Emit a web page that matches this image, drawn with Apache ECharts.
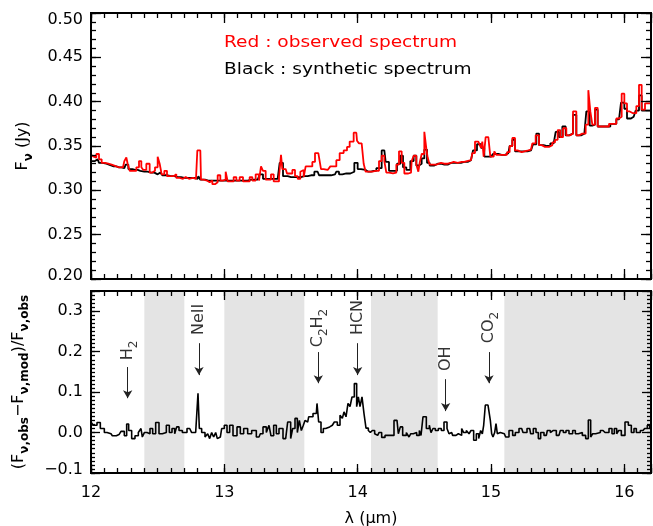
<!DOCTYPE html>
<html><head><meta charset="utf-8">
<script src="https://cdn.jsdelivr.net/npm/echarts@6/dist/echarts.min.js"></script>
<style>html,body{margin:0;padding:0;background:#fff}#c{width:653px;height:526px}</style>
</head><body><div id="c"></div>
<script>
// ---------- data ----------
const obsWave = [12.00,12.02,12.03,12.05,12.07,12.09,12.12,12.14,12.17,12.21,12.24,12.26,12.27,12.28,12.30,12.33,12.35,12.37,12.385,12.40,12.43,12.45,12.47,12.49,12.51,12.52,12.54,12.56,12.58,12.61,12.63,12.65,12.68,12.70,12.72,12.75,12.78,12.795,12.80,12.82,12.83,12.86,12.88,12.90,12.92,12.94,12.96,12.98,13.00,13.02,13.03,13.06,13.08,13.10,13.13,13.15,13.18,13.20,13.22,13.25,13.27,13.28,13.30,13.32,13.34,13.36,13.38,13.40,13.42,13.43,13.44,13.46,13.48,13.50,13.52,13.54,13.56,13.58,13.59,13.60,13.62,13.65,13.67,13.69,13.72,13.73,13.76,13.79,13.80,13.83,13.85,13.88,13.91,13.93,13.95,13.99,14.00,14.02,14.04,14.05,14.07,14.10,14.12,14.15,14.17,14.19,14.21,14.22,14.25,14.28,14.30,14.32,14.34,14.36,14.40,14.41,14.43,14.45,14.46,14.47,14.49,14.51,14.52,14.53,14.55,14.58,14.60,14.65,14.70,14.72,14.75,14.78,14.82,14.85,14.87,14.89,14.92,14.93,14.94,14.95,14.97,14.99,15.00,15.02,15.03,15.05,15.08,15.11,15.13,15.15,15.17,15.19,15.21,15.25,15.28,15.30,15.32,15.35,15.37,15.39,15.42,15.45,15.47,15.49,15.51,15.53,15.55,15.58,15.60,15.63,15.65,15.67,15.70,15.72,15.74,15.75,15.77,15.79,15.81,15.84,15.87,15.90,15.93,15.95,15.97,15.99,16.01,16.03,16.05,16.08,16.10,16.12,16.14,16.17,16.20];
const obsFlux = [0.340,0.338,0.337,0.341,0.335,0.331,0.330,0.329,0.327,0.326,0.326,0.333,0.337,0.330,0.322,0.322,0.326,0.333,0.326,0.323,0.330,0.320,0.322,0.326,0.338,0.330,0.318,0.322,0.316,0.316,0.318,0.314,0.313,0.315,0.313,0.314,0.313,0.314,0.345,0.345,0.312,0.311,0.309,0.311,0.307,0.309,0.317,0.311,0.312,0.321,0.310,0.310,0.315,0.311,0.315,0.310,0.310,0.315,0.311,0.318,0.311,0.327,0.322,0.312,0.312,0.318,0.310,0.310,0.315,0.340,0.324,0.324,0.319,0.319,0.323,0.316,0.313,0.321,0.323,0.315,0.327,0.327,0.332,0.342,0.342,0.324,0.323,0.322,0.327,0.327,0.334,0.342,0.345,0.349,0.355,0.365,0.356,0.353,0.353,0.330,0.321,0.321,0.322,0.322,0.333,0.339,0.333,0.320,0.319,0.320,0.329,0.344,0.331,0.319,0.320,0.333,0.339,0.329,0.321,0.331,0.341,0.366,0.347,0.337,0.329,0.329,0.331,0.330,0.331,0.332,0.331,0.332,0.333,0.334,0.342,0.355,0.355,0.348,0.355,0.338,0.360,0.358,0.338,0.338,0.344,0.340,0.340,0.340,0.343,0.350,0.359,0.345,0.343,0.344,0.345,0.346,0.353,0.362,0.351,0.349,0.349,0.351,0.354,0.357,0.368,0.360,0.370,0.362,0.364,0.389,0.362,0.364,0.364,0.374,0.413,0.389,0.374,0.393,0.372,0.372,0.372,0.375,0.375,0.381,0.383,0.409,0.398,0.389,0.387,0.387,0.395,0.419,0.391,0.398,0.398];

const modelWave = [12.00,12.03,12.05,12.07,12.10,12.13,12.17,12.21,12.25,12.27,12.29,12.33,12.37,12.40,12.45,12.50,12.52,12.55,12.60,12.65,12.70,12.75,12.80,12.81,12.83,12.88,12.93,12.98,13.02,13.06,13.10,13.15,13.20,13.25,13.28,13.30,13.35,13.40,13.43,13.45,13.50,13.55,13.60,13.65,13.70,13.72,13.76,13.80,13.83,13.85,13.87,13.90,13.93,13.96,13.99,14.01,14.04,14.08,14.12,14.16,14.20,14.22,14.25,14.28,14.31,14.33,14.35,14.38,14.41,14.43,14.45,14.47,14.49,14.51,14.53,14.55,14.60,14.65,14.70,14.75,14.80,14.85,14.88,14.91,14.94,14.96,15.00,15.03,15.08,15.13,15.15,15.17,15.19,15.25,15.30,15.33,15.35,15.37,15.42,15.47,15.50,15.52,15.55,15.57,15.60,15.63,15.65,15.70,15.73,15.75,15.77,15.79,15.81,15.87,15.92,15.96,15.99,16.01,16.03,16.07,16.10,16.12,16.14,16.20];
const modelFlux = [0.333,0.333,0.335,0.331,0.330,0.328,0.327,0.326,0.325,0.329,0.324,0.323,0.322,0.321,0.320,0.318,0.320,0.317,0.316,0.315,0.314,0.314,0.313,0.316,0.312,0.311,0.311,0.311,0.311,0.311,0.311,0.311,0.312,0.312,0.318,0.313,0.313,0.313,0.331,0.316,0.315,0.315,0.316,0.317,0.321,0.317,0.317,0.317,0.318,0.321,0.318,0.319,0.319,0.321,0.331,0.324,0.323,0.321,0.322,0.325,0.345,0.332,0.322,0.322,0.330,0.339,0.326,0.323,0.333,0.339,0.328,0.330,0.336,0.346,0.331,0.328,0.330,0.329,0.331,0.331,0.332,0.334,0.345,0.352,0.348,0.338,0.338,0.341,0.340,0.342,0.350,0.357,0.344,0.344,0.345,0.352,0.364,0.351,0.350,0.353,0.366,0.360,0.372,0.362,0.364,0.385,0.362,0.364,0.389,0.373,0.374,0.391,0.372,0.372,0.375,0.380,0.399,0.392,0.381,0.383,0.390,0.407,0.390,0.390];

const residWave = [12.00,12.03,12.06,12.08,12.12,12.15,12.17,12.21,12.24,12.26,12.275,12.29,12.32,12.34,12.37,12.38,12.39,12.41,12.43,12.455,12.47,12.50,12.52,12.55,12.58,12.595,12.62,12.635,12.65,12.67,12.70,12.74,12.77,12.80,12.805,12.82,12.84,12.87,12.88,12.90,12.91,12.93,12.94,12.955,12.97,12.99,13.01,13.03,13.05,13.08,13.11,13.13,13.16,13.19,13.22,13.26,13.28,13.30,13.33,13.34,13.36,13.38,13.40,13.42,13.46,13.49,13.505,13.52,13.54,13.555,13.57,13.585,13.60,13.61,13.625,13.64,13.69,13.70,13.715,13.735,13.75,13.77,13.81,13.84,13.855,13.88,13.89,13.905,13.92,13.935,13.95,13.965,13.985,14.00,14.01,14.025,14.04,14.055,14.07,14.09,14.10,14.12,14.135,14.15,14.17,14.19,14.22,14.25,14.295,14.315,14.325,14.35,14.38,14.39,14.405,14.43,14.455,14.47,14.48,14.50,14.53,14.545,14.555,14.575,14.59,14.62,14.635,14.66,14.68,14.69,14.705,14.72,14.755,14.77,14.79,14.80,14.83,14.84,14.86,14.88,14.90,14.915,14.93,14.94,14.95,14.965,14.99,15.00,15.01,15.02,15.035,15.04,15.055,15.07,15.10,15.12,15.15,15.175,15.19,15.23,15.25,15.29,15.305,15.33,15.345,15.365,15.38,15.415,15.43,15.46,15.47,15.51,15.53,15.555,15.57,15.60,15.625,15.64,15.67,15.70,15.72,15.74,15.755,15.77,15.80,15.84,15.87,15.90,15.915,15.935,15.95,15.965,15.99,16.02,16.04,16.065,16.08,16.10,16.14,16.165,16.18,16.20];
const residValue = [0.026,0.018,0.025,0.010,0.000,-0.003,-0.008,-0.005,0.003,-0.008,0.021,0.005,-0.015,-0.008,0.000,0.010,-0.011,0.000,-0.003,0.010,-0.003,0.025,-0.003,0.000,0.018,0.000,0.010,-0.003,0.014,0.005,0.000,0.010,0.000,0.000,0.097,0.010,0.000,-0.011,-0.003,-0.015,0.000,-0.011,0.000,-0.015,-0.011,0.010,0.018,0.000,0.018,-0.008,0.014,-0.003,0.010,-0.003,0.005,-0.011,-0.003,0.014,0.000,0.018,-0.008,0.018,-0.003,0.010,-0.015,0.026,-0.015,0.010,0.035,0.000,0.030,0.005,0.018,0.030,0.026,0.039,0.047,0.072,0.026,0.000,0.010,0.014,0.018,0.026,0.018,0.043,0.035,0.051,0.039,0.072,0.064,0.088,0.121,0.064,0.088,0.064,0.088,0.047,0.011,0.005,0.000,0.005,-0.003,-0.007,0.000,-0.012,-0.007,-0.007,0.030,-0.003,0.014,-0.007,0.000,-0.011,-0.003,0.000,-0.007,0.005,-0.007,0.039,0.010,0.018,0.000,0.010,0.005,0.010,0.005,0.026,0.010,-0.003,0.000,-0.007,-0.003,-0.007,0.010,0.000,0.005,-0.003,0.005,-0.019,-0.003,-0.015,0.005,-0.003,0.018,0.068,0.068,0.030,-0.003,-0.011,0.000,0.022,-0.003,0.000,-0.003,-0.011,0.005,-0.007,0.000,0.010,0.000,0.010,-0.003,0.010,0.000,-0.015,0.000,-0.007,0.005,0.000,0.005,-0.007,0.005,0.000,0.005,-0.003,0.005,-0.003,0.000,-0.007,-0.015,0.031,-0.011,-0.003,0.000,0.005,0.000,0.010,-0.003,0.010,-0.003,0.005,-0.007,0.026,0.018,0.000,0.010,0.000,0.005,0.010,0.018,0.010];

const grayBands = [[12.4, 12.7], [13.0, 13.6], [14.1, 14.6], [15.1, 16.2]];

const lineLabels = ['H{s|2}', 'NeII', 'C{s|2}H{s|2}', 'HCN', 'OH', 'CO{s|2}'];
const lineWave   = [12.275, 12.81, 13.705, 14.0, 14.66, 14.985];
const arrowTop   = [0.162, 0.221, 0.199, 0.221, 0.132, 0.199];
const arrowTip   = [0.085, 0.142, 0.122, 0.142, 0.053, 0.122];
const labelBase  = [0.179, 0.241, 0.211, 0.241, 0.152, 0.221];

const xRange = [12, 16.2];
const topYRange = [0.20, 0.50];
const botYRange = [-0.1, 0.35];
const legendTexts = ['Red : observed spectrum', 'Black : synthetic spectrum'];

// ---------- chart ----------
const FONT = 'DejaVu Sans';
const zip = (a, b) => a.map((v, i) => [v, b[i]]);
const subRich = {
  m: { fontSize: 16, fontFamily: FONT, color: '#000', lineHeight: 20 },
  s: { fontSize: 12, fontFamily: FONT, fontWeight: 'bold', color: '#000', lineHeight: 14, padding: [12, 0, 0, 0] }
};
const labelRich = {
  m: { fontSize: 16, fontFamily: FONT, color: '#000', lineHeight: 20 },
  s: { fontSize: 12, fontFamily: FONT, color: '#000', lineHeight: 14, padding: [12, 0, 0, 0] }
};

function xAx(grid, pos, interval, tickLen, showLabel, extra) {
  return Object.assign({
    type: 'value', gridIndex: grid, position: pos, min: xRange[0], max: xRange[1], interval: interval,
    z: 10,
    axisLine: { show: true, onZero: false, lineStyle: { color: '#000', width: 2 } },
    axisTick: { show: true, inside: true, length: tickLen, lineStyle: { color: '#000', width: 1.3 } },
    axisLabel: { show: showLabel, color: '#000', fontSize: 16, fontFamily: FONT, margin: 12,
      formatter: v => (Math.abs(v - Math.round(v)) < 1e-6 ? String(Math.round(v)) : '') },
    splitLine: { show: false }, minorTick: { show: false }, axisPointer: { show: false }
  }, extra || {});
}
function yAx(grid, pos, range, interval, tickLen, label, extra) {
  return Object.assign({
    type: 'value', gridIndex: grid, position: pos, min: range[0], max: range[1], interval: interval,
    z: 10,
    axisLine: { show: true, onZero: false, lineStyle: { color: '#000', width: 2 } },
    axisTick: { show: true, inside: true, length: tickLen, lineStyle: { color: '#000', width: 1.3 } },
    axisLabel: label ? Object.assign({ show: true, color: '#000', fontSize: 16, fontFamily: FONT, margin: 8 }, label) : { show: false },
    splitLine: { show: false }, minorTick: { show: false }, axisPointer: { show: false }
  }, extra || {});
}

const topLabelFmt = v => {
  const s = v.toFixed(2);
  if (Math.abs(v - 0.5) < 1e-6) return '{t|' + s + '}';
  if (Math.abs(v - 0.2) < 1e-6) return '{b|' + s + '}';
  return s;
};
const botLabelFmt = v => {
  if (v > 0.32) return '';
  if (v < -0.05) return '{b|−0.1}';
  return Math.abs(v).toFixed(1);
};
const tickRich = {
  t: { fontSize: 16, fontFamily: FONT, color: '#000', padding: [14, 0, 0, 0] },
  b: { fontSize: 16, fontFamily: FONT, color: '#000', padding: [0, 0, 7, 0] }
};

const chart = echarts.init(document.getElementById('c'), null, { renderer: 'canvas' });
chart.setOption({
  animation: false,
  backgroundColor: '#fff',
  grid: [
    { left: 91, right: 2, top: 13, height: 266, containLabel: false, outerBoundsMode: 'none' },
    { left: 91, right: 2, top: 291, height: 182, containLabel: false, outerBoundsMode: 'none' }
  ],
  xAxis: [
    xAx(0, 'bottom', 1, 10, false),
    xAx(0, 'bottom', 0.1, 5, false),
    xAx(0, 'top', 1, 10, false),
    xAx(0, 'top', 0.1, 5, false),
    xAx(1, 'bottom', 1, 9, true, { name: 'λ (μm)', nameLocation: 'middle', nameGap: 38, nameMoveOverlap: false,
      nameTextStyle: { color: '#000', fontSize: 16, fontFamily: FONT } }),
    xAx(1, 'bottom', 0.1, 5, false),
    xAx(1, 'top', 1, 9, false),
    xAx(1, 'top', 0.1, 5, false)
  ],
  yAxis: [
    yAx(0, 'left', topYRange, 0.05, 10, { formatter: topLabelFmt, rich: tickRich },
      { name: '{m|F}{s|ν}{m| (Jy)}', nameLocation: 'middle', nameGap: 58, nameMoveOverlap: false,
        nameTextStyle: { rich: subRich } }),
    yAx(0, 'left', topYRange, 0.01, 5, null),
    yAx(0, 'right', topYRange, 0.05, 10, null),
    yAx(0, 'right', topYRange, 0.01, 5, null),
    yAx(1, 'left', botYRange, 0.1, 9, { formatter: botLabelFmt, rich: tickRich },
      { name: '{m|(F}{s|ν,obs}{m|−F}{s|ν,mod}{m|)/F}{s|ν,obs}', nameLocation: 'middle', nameGap: 62, nameMoveOverlap: false,
        nameTextStyle: { rich: subRich } }),
    yAx(1, 'left', botYRange, 0.01, 4, null),
    yAx(1, 'right', botYRange, 0.1, 9, null),
    yAx(1, 'right', botYRange, 0.01, 4, null)
  ],
  graphic: [
    { type: 'text', x: 224, y: 43, scaleX: 1.16, silent: true,
      style: { text: legendTexts[0], fill: '#ff0000', font: '16px "DejaVu Sans"', verticalAlign: 'middle', align: 'left' } },
    { type: 'text', x: 224, y: 70, scaleX: 1.16, silent: true,
      style: { text: legendTexts[1], fill: '#000000', font: '16px "DejaVu Sans"', verticalAlign: 'middle', align: 'left' } }
  ],
  series: [
    { name: 'synthetic', type: 'line', xAxisIndex: 0, yAxisIndex: 0, data: zip(modelWave, modelFlux),
      step: 'middle', showSymbol: false, symbol: 'none', silent: true, z: 2,
      lineStyle: { color: '#000', width: 1.8 } },
    { name: 'observed', type: 'line', xAxisIndex: 0, yAxisIndex: 0, data: zip(obsWave, obsFlux),
      step: 'middle', showSymbol: false, symbol: 'none', silent: true, z: 3,
      lineStyle: { color: '#ff0000', width: 1.8 } },
    { name: 'residual', type: 'line', xAxisIndex: 4, yAxisIndex: 4, data: zip(residWave, residValue),
      step: 'middle', showSymbol: false, symbol: 'none', silent: true, z: 3,
      lineStyle: { color: '#000', width: 1.6 },
      markArea: { silent: true, itemStyle: { color: '#e4e4e4' }, label: { show: false },
        data: grayBands.map(b => [{ xAxis: b[0] }, { xAxis: b[1] }]) },
      markLine: { silent: true, symbol: ['none', 'arrow'], symbolSize: [7, 8], label: { show: false },
        lineStyle: { color: '#222', width: 1, type: 'solid' }, emphasis: { disabled: true },
        data: lineWave.map((x, i) => [{ coord: [x, arrowTop[i]] }, { coord: [x, arrowTip[i]] }]) } },
    { name: 'labels', type: 'scatter', xAxisIndex: 4, yAxisIndex: 4, symbolSize: 0, silent: true, z: 5,
      data: lineWave.map((x, i) => [x, labelBase[i]]),
      label: { show: true, position: 'inside', rotate: 90, align: 'left', verticalAlign: 'middle',
        formatter: p => lineLabels[p.dataIndex].replace(/(^|\})([^{}]+?)(?=\{|$)/g, (m, a, b) => a + '{m|' + b + '}'),
        rich: labelRich } }
  ]
});
</script></body></html>
